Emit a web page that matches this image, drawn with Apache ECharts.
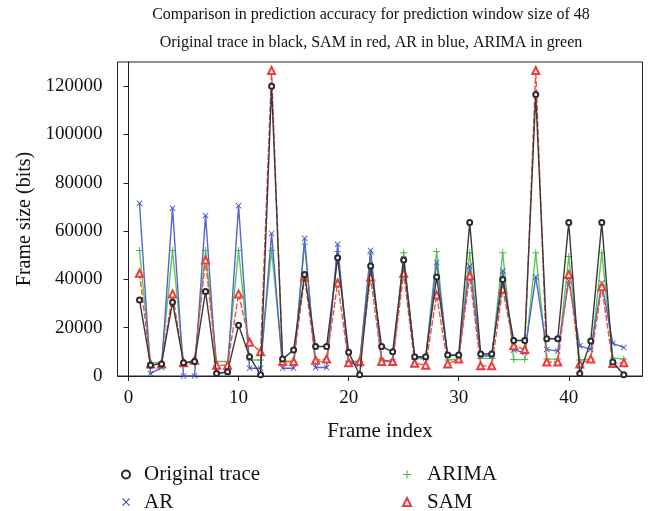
<!DOCTYPE html>
<html>
<head>
<meta charset="utf-8">
<script src="https://cdn.jsdelivr.net/npm/echarts@6/dist/echarts.min.js"></script>
<style>
  html, body { margin: 0; padding: 0; background: #fff; }
  #chart { width: 651px; height: 511px; }
</style>
</head>
<body>
<div id="chart"></div>
<script>
// Frame indices 1..45
const frames = Array.from({ length: 45 }, (_, i) => i + 1);

// Frame sizes in bits
const originalTrace = [31500, 4500, 5000, 30500, 5500, 6000, 35000, 1000, 1800, 21000,
  8000, 500, 120000, 7000, 10800, 42000, 12200, 12200, 49000, 9800,
  500, 45500, 12200, 10000, 48000, 8000, 8000, 41000, 8700, 8700,
  63500, 9100, 9100, 40000, 14700, 14700, 116500, 15400, 15400, 63500,
  1000, 14500, 63500, 5800, 500];

const arPred = [71500, 1000, 3500, 69500, 0, 0, 66500, 1000, 1500, 70500,
  3200, 3200, 59000, 3200, 3200, 57000, 3500, 3500, 54500, 5300,
  4800, 52000, 6500, 6000, 48500, 7700, 7500, 47000, 8500, 8500,
  45500, 8300, 8300, 43500, 10800, 9700, 41000, 11000, 10300, 39500,
  12500, 11000, 38500, 13500, 11800];

const arimaPred = [52000, 5500, 5500, 52000, 5500, 5500, 52000, 6000, 6000, 52000,
  6600, 6600, 52000, 6000, 6000, 54500, 6000, 6000, 51500, 6000,
  6000, 50500, 6600, 6000, 51000, 7300, 7000, 51500, 6600, 7000,
  51000, 7300, 7300, 51000, 6800, 6800, 51000, 7000, 7000, 49500,
  6600, 7000, 51000, 7500, 7000];

const samPred = [42500, 5000, 5000, 34000, 5500, 6500, 48000, 4500, 4500, 34000,
  14000, 10000, 126500, 6000, 6000, 41000, 6500, 7000, 38500, 5500,
  6000, 41000, 6000, 6000, 42500, 5300, 4500, 33500, 5000, 7000,
  41500, 4200, 4200, 36000, 12500, 11000, 126500, 5800, 5800, 42000,
  5000, 7000, 37000, 5200, 5500];

const xTicks = [0, 10, 20, 30, 40];
const yTicks = [0, 20000, 40000, 60000, 80000, 100000, 120000];

const FONT = '"Liberation Serif", "DejaVu Serif", serif';

// Stroked-looking marker shapes drawn as filled outlines
const PLUS = 'path://M4.3,0H5.7V4.3H10V5.7H5.7V10H4.3V5.7H0V4.3H4.3Z';
const CROSS = 'path://M1,0L5,4L9,0L10,1L6,5L10,9L9,10L5,6L1,10L0,9L4,5L0,1Z';

const pairs = arr => frames.map((f, i) => [f, arr[i]]);

// one legend block per entry so the two-column layout is exact
function legendEntry(name, left, top, itemWidth) {
  return {
    data: [name], left: left, top: top, padding: 0,
    itemWidth: itemWidth, itemHeight: 10,
    lineStyle: { opacity: 0 },
    textStyle: { fontFamily: FONT, fontSize: 21, color: '#111' }
  };
}

const chart = echarts.init(document.getElementById('chart'), null, { renderer: 'canvas' });

chart.setOption({
  animation: false,
  backgroundColor: '#fff',
  textStyle: { fontFamily: FONT },
  graphic: [
    {
      type: 'text', x: 371, y: 14.5,
      style: { text: 'Comparison in prediction accuracy for prediction window size of 48',
        font: '16px ' + FONT, fill: '#111', textAlign: 'center', textVerticalAlign: 'middle' }
    },
    {
      type: 'text', x: 371, y: 42.5,
      style: { text: 'Original trace in black, SAM in red, AR in blue, ARIMA in green',
        font: '16px ' + FONT, fill: '#111', textAlign: 'center', textVerticalAlign: 'middle' }
    }
  ],
  grid: {
    left: 117.5, top: 62, right: 8.5, bottom: 135,
    show: true, borderColor: '#222', borderWidth: 1, backgroundColor: 'transparent'
  },
  legend: [
    legendEntry('Original trace', 112, 464, 26),
    legendEntry('AR', 112, 491.5, 26),
    legendEntry('ARIMA', 391, 464, 30),
    legendEntry('SAM', 391, 491.5, 30)
  ],
  xAxis: {
    type: 'value', min: -1, max: 46.7,
    name: 'Frame index', nameLocation: 'middle', nameGap: 45,
    nameTextStyle: { fontFamily: FONT, fontSize: 21, color: '#111' },
    axisLine: { show: true, lineStyle: { color: '#222', width: 1 } },
    axisTick: { show: true, length: 5, customValues: xTicks, lineStyle: { color: '#222' } },
    axisLabel: { customValues: xTicks, fontFamily: FONT, fontSize: 19, color: '#111', margin: 13 },
    splitLine: { show: false }
  },
  yAxis: {
    type: 'value', min: 0, max: 130000,
    name: 'Frame size (bits)', nameLocation: 'middle', nameGap: 82,
    nameTextStyle: { fontFamily: FONT, fontSize: 20, color: '#111' },
    axisLine: { show: true, lineStyle: { color: '#222', width: 1 } },
    axisTick: { show: true, length: 5, customValues: yTicks, lineStyle: { color: '#222' } },
    axisLabel: { customValues: yTicks, fontFamily: FONT, fontSize: 19, color: '#111', margin: 15,
      formatter: v => String(v) },
    splitLine: { show: false }
  },
  series: [
    {
      name: 'ARIMA', type: 'line', data: pairs(arimaPred),
      symbol: PLUS, symbolSize: 7,
      itemStyle: { color: '#3fbf3f' },
      lineStyle: { color: '#5cc85c', width: 1.4 },
      z: 2
    },
    {
      name: 'AR', type: 'line', data: pairs(arPred),
      symbol: CROSS, symbolSize: 6,
      itemStyle: { color: '#3b4fc4' },
      lineStyle: { color: '#5565cc', width: 1.4 },
      z: 3
    },
    {
      name: 'SAM', type: 'line', data: pairs(samPred),
      symbol: 'emptyTriangle', symbolSize: 7,
      itemStyle: { color: '#ee3b3b', borderWidth: 1 },
      lineStyle: { color: '#ee5040', width: 1.4, type: [6, 2] },
      z: 4
    },
    {
      name: 'Original trace', type: 'line', data: pairs(originalTrace),
      symbol: 'emptyCircle', symbolSize: 5,
      itemStyle: { color: '#2a2a2a', borderWidth: 1 },
      lineStyle: { color: '#3a3a3a', width: 1.4 },
      z: 5
    }
  ]
});
</script>
</body>
</html>
